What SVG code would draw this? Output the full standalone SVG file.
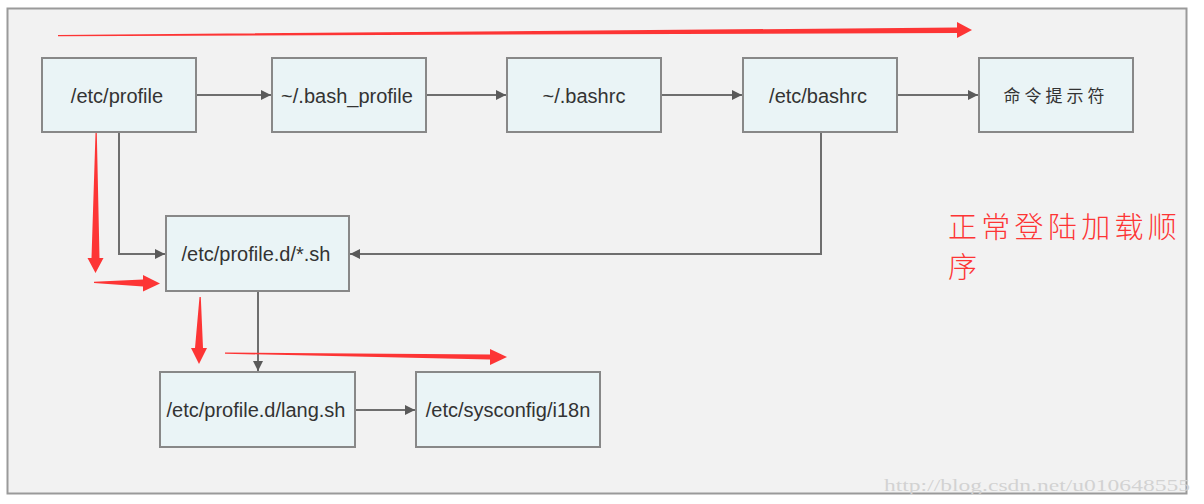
<svg xmlns="http://www.w3.org/2000/svg" width="1204" height="504" viewBox="0 0 1204 504">
<style>
.node rect{fill:#eaf4f6;stroke:#888;stroke-width:2}
.node text{font-family:"Liberation Sans",Arial,sans-serif;font-size:20px;fill:#333;text-anchor:middle}
.node text.cjk{font-family:"Noto Sans CJK SC",sans-serif;font-size:17px;letter-spacing:4px}
.conn path{fill:none;stroke:#6e6e6e;stroke-width:2;marker-end:url(#ah)}
.red{fill:#fd3535}
</style>
<defs>
<marker id="ah" viewBox="0 0 10 10" refX="10" refY="5" markerWidth="11" markerHeight="10" markerUnits="userSpaceOnUse" orient="auto">
<path d="M0,0 L10,5 L0,10 z" fill="#5a5a5a"/>
</marker>
</defs>
<rect x="0" y="0" width="1204" height="504" fill="#fff"/>
<rect x="7.5" y="8.5" width="1179" height="485" fill="#f2f2f2" stroke="#9a9a9a" stroke-width="2"/>

<g class="conn">
<path d="M196,95 H271"/>
<path d="M426,95 H506"/>
<path d="M661,95 H742"/>
<path d="M897,95 H978"/>
<path d="M119,132 V254 H165"/>
<path d="M821,132 V254 H350"/>
<path d="M258,291 V371"/>
<path d="M355,410 H415"/>
</g>

<g id="n-profile" class="node"><rect x="42" y="58" width="154" height="74"/><text x="117" y="103">/etc/profile</text></g>
<g id="n-bash_profile" class="node"><rect x="272" y="58" width="154" height="74"/><text x="347" y="103">~/.bash_profile</text></g>
<g id="n-bashrc-home" class="node"><rect x="507" y="58" width="154" height="74"/><text x="584" y="103">~/.bashrc</text></g>
<g id="n-etc-bashrc" class="node"><rect x="743" y="58" width="154" height="74"/><text x="818" y="103">/etc/bashrc</text></g>
<g id="n-prompt" class="node"><rect x="979" y="58" width="154" height="74"/><text class="cjk" x="1056" y="102">命令提示符</text></g>
<g id="n-profiled" class="node"><rect x="166" y="216" width="183" height="75"/><text x="256" y="261">/etc/profile.d/*.sh</text></g>
<g id="n-lang" class="node"><rect x="160" y="372" width="195" height="75"/><text x="256" y="417">/etc/profile.d/lang.sh</text></g>
<g id="n-i18n" class="node"><rect x="416" y="372" width="184" height="75"/><text x="508" y="417">/etc/sysconfig/i18n</text></g>

<g id="red-arrows">
<polygon class="red" points="58,35 957,27.5 957,22 972,30 957,38 957,33 58,36.2"/>
<polygon class="red" points="95.5,133 96.8,133 99.5,258 103.5,258 95.5,273 87.5,258 91.5,258"/>
<polygon class="red" points="94,281.8 143,279.5 143,275 160,283.5 143,291.5 143,286.5 94,283"/>
<polygon class="red" points="199.5,297 200.8,297 203,348 207,348 199,364 191,348 195,348"/>
<polygon class="red" points="225,352.5 490,354.5 490,349 507,357 490,365 490,359.5 225,353.7"/>
</g>

<g id="note" font-family="'Noto Sans CJK SC',sans-serif" font-size="29" fill="#fd3535" font-weight="300">
<text x="948" y="238" letter-spacing="4.3">正常登陆加载顺</text>
<text x="948" y="278">序</text>
</g>

<text x="884" y="491" font-family="'Liberation Serif',serif" font-size="17" fill="#d2d2d2" textLength="306" lengthAdjust="spacingAndGlyphs">http://blog.csdn.net/u010648555</text>
</svg>
